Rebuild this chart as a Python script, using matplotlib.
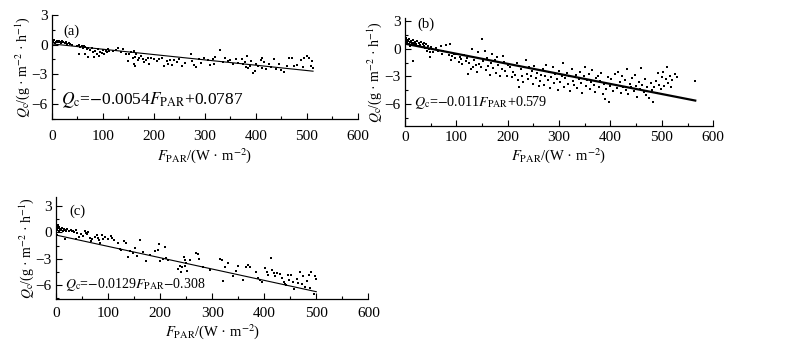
import matplotlib
matplotlib.use("Agg")
import matplotlib.pyplot as plt
from matplotlib.ticker import MultipleLocator

plt.rcParams['font.family'] = ['Liberation Serif', 'DejaVu Serif']
plt.rcParams['mathtext.fontset'] = 'stix'

# ---------------- data ----------------
a_x = [0, 0, 0, 2, 4, 6, 8, 10, 12, 14, 16, 18, 20, 22, 25, 28, 30, 33, 36, 40,
       50, 52, 55, 58, 60, 62, 65, 68, 70, 52,
       75, 78, 80, 82, 85, 88, 90, 92, 95, 98, 100, 102, 105, 108, 110, 112, 70, 65,
       120, 125, 130, 135, 140, 145, 150, 152, 155, 158, 160, 162, 165, 168, 170, 160, 163,
       175, 178, 180, 185, 190, 195, 200, 205, 188,
       210, 215, 220, 225, 228, 232, 236, 240, 245, 250, 255, 260,
       272, 275, 278, 282, 288, 292, 298, 305, 310, 315, 320, 318,
       330, 335, 340, 345, 350, 355, 360, 365, 372, 375, 378, 380, 382, 385, 388, 390, 395, 398,
       400, 405, 410, 412, 415, 420, 425, 430, 435, 440, 445, 450, 455, 460, 465, 470, 475, 480,
       488, 492, 495, 500, 505, 508, 510, 512, 412]
a_y = [1.0, 0.7, 0.4, 0.3, 0.5, 0.2, 0.3, 0.35, 0.25, 0.4, 0.3, 0.2, 0.35, 0.3, 0.2, 0.25, 0.1, 0.15, 0.05, 0.0,
       -0.1, 0.0, -0.2, -0.1, -0.3, -0.15, -0.2, -0.4, -0.3, -0.9,
       -0.5, -0.3, -0.7, -1.2, -0.6, -0.9, -0.4, -1.1, -0.7, -0.8, -0.5, -0.9, -0.6, -0.7, -0.4, -0.6, -1.2, -0.9,
       -0.6, -0.5, -0.3, -0.7, -0.4, -0.9, -1.7, -0.9, -0.7, -1.4, -0.6, -1.2, -0.9, -1.6, -1.3, -2.0, -2.2,
       -1.1, -1.5, -1.8, -1.6, -2.0, -1.4, -1.5, -1.7, -1.3,
       -1.5, -1.4, -2.2, -1.7, -2.0, -1.6, -2.1, -1.6, -1.8, -1.5, -2.2, -1.9,
       -0.9, -1.7, -2.1, -2.3, -1.5, -1.9, -1.4, -1.6, -2.1, -1.5, -1.2, -2.0,
       -0.5, -1.8, -1.3, -1.7, -1.6, -2.0, -1.5, -1.9, -1.5, -2.0, -1.8, -2.3, -1.1, -2.4, -2.2, -1.7, -2.9, -2.7,
       -2.0, -2.2, -1.6, -2.4, -1.8, -2.5, -2.0, -2.3, -1.5, -2.5, -2.0, -2.6, -2.8, -2.2, -1.4, -1.3, -2.2, -2.1,
       -1.6, -2.3, -1.4, -1.1, -1.3, -2.2, -1.7, -2.4, -1.4]

b_x = [0, 0, 0, 1, 0, 1, 2, 3, 4, 5, 6, 7, 8, 9, 10, 12, 14, 15, 17, 18, 20, 22, 24, 25, 27, 28, 30,
       32, 33, 35, 37, 38, 40, 42, 43, 45, 46, 48, 50, 15, 48,
       55, 60, 65, 70, 72, 75, 80, 85, 88, 90, 92, 95, 98, 100, 105, 108, 110, 112, 115, 118, 120,
       122, 125, 128, 130, 132, 135, 138, 140, 142, 145, 148, 150, 152, 155, 157, 160, 162, 165, 168,
       170, 172, 175, 178, 180, 182, 185, 188, 190, 192, 195, 198, 200,
       205, 208, 210, 215, 218, 220, 222, 225, 228, 230, 235, 238, 240, 242, 245, 248, 250, 252, 255,
       258, 260, 262, 265, 268, 270, 272, 275, 278, 280, 282, 285, 288, 290, 292, 295, 298, 300,
       302, 305, 308, 310, 312, 315, 318, 320, 322, 325, 328, 330, 332, 335, 338, 340, 342, 345, 348,
       350, 352, 355, 358, 360, 362, 365, 368, 370, 372, 375, 378, 380, 382, 385, 388, 390, 392, 395,
       398, 400,
       402, 405, 408, 410, 412, 415, 418, 420, 422, 425, 428, 430, 432, 435, 438, 440, 442, 445, 448,
       450, 452, 455, 458, 460, 462, 465, 468, 470, 472, 475, 478, 480, 482, 485, 488, 490, 492, 495,
       498, 500, 502, 505, 508, 510, 512, 515, 518, 520, 525, 530, 565]
b_y = [2.8, 2.3, 1.8, 1.5, -0.5, -1.5, 1.2, 0.8, 1.0, 0.6, 0.9, 1.1, 0.5, 0.8, 0.3, 0.9, 0.6, 1.0, 0.4, 0.7,
       0.8, 0.5, 0.9, 0.3, 0.6, 0.7, 0.4, 0.8, 0.2, 0.5, 0.3, 0.6, 0.1, 0.5, -0.2, 0.3, 0.0, -0.3, 0.2, -1.3, -0.9,
       -0.3, 0.1, -0.2, 0.3, -0.5, -0.2, 0.4, -0.7, 0.5, -1.2, -0.8, -0.5, -1.0, -0.6, -1.4, -0.9, -1.1, -1.6,
       -0.7, -1.3, -1.0,
       -2.7, -1.5, -2.2, 0.0, -2.0, -1.2, -1.8, -2.5, -0.3, -1.6, -2.0, 1.1, -1.3, -0.2, -2.3, -1.0, -1.9, -2.8,
       -1.5, -0.5, -2.1, -1.2, -2.6, -0.9, -1.7, -3.0, -2.2, -0.8, -1.4, -2.4, -2.9, -1.8,
       -2.0, -3.1, -2.5, -2.8, -1.5, -3.4, -4.2, -2.2, -2.9, -3.6, -1.2, -2.7, -3.3, -2.0, -3.0, -2.4, -3.8,
       -1.9, -3.2, -2.6, -4.0, -3.5, -2.8, -2.2, -3.9, -3.0, -1.8, -3.4, -2.5, -4.3, -3.1, -2.0, -3.7, -2.7,
       -3.3, -4.5, -2.4,
       -3.6, -2.9, -1.5, -4.1, -3.2, -2.6, -3.8, -3.0, -4.6, -2.2, -3.5, -3.9, -2.8, -4.3, -3.3, -2.5, -3.7,
       -4.8, -3.0, -2.0, -4.0, -3.4, -2.7, -4.4, -3.6, -2.3, -3.9, -4.7, -3.2, -2.9, -4.2, -3.5, -2.6, -4.9,
       -3.8, -5.5, -4.4, -3.1, -5.8, -4.0,
       -3.3, -4.6, -2.7, -3.9, -4.3, -2.5, -3.6, -4.8, -3.0, -4.1, -3.4, -4.5, -2.2, -4.9, -3.8, -4.2, -3.2,
       -4.6, -2.8, -4.0, -5.2, -3.6, -4.4, -2.1, -3.9, -4.7, -3.3, -5.0, -4.1, -5.4, -3.7, -4.5, -5.8, -4.2,
       -3.5, -4.8, -2.6, -3.9, -4.4, -3.1, -2.5, -4.0, -3.3, -2.0, -3.7, -2.9, -4.2, -3.4, -2.7, -3.1, -3.5]

c_x = [0, 0, 1, 2, 3, 4, 5, 6, 8, 10, 12, 14, 16, 18, 20, 22, 25, 28, 30, 32, 35, 38, 40, 17, 38, 2,
       45, 48, 52, 55, 58, 60, 62, 65, 68, 70, 75, 78, 80, 82, 85, 88, 90, 95, 100, 105, 108, 112, 120,
       122, 125,
       130, 135, 138, 142, 148, 152, 155, 162, 168, 172, 180, 190, 195, 198, 200, 205, 210, 212, 215,
       235, 238, 240, 242, 245, 248, 250, 252, 248,
       258, 268, 272, 275, 282, 295, 315, 318, 320, 325, 330, 340, 345, 350, 360, 365, 368, 372, 385,
       388, 392, 395,
       402, 405, 408, 412, 415, 418, 420, 425, 430, 435, 438, 440, 442, 445, 448, 452, 455, 458, 462,
       465, 468, 472, 475, 478, 482, 485, 488, 490, 495, 500, 498]
c_y = [1.5, 1.0, 0.6, 0.3, 0.8, 0.5, 0.2, 0.6, 0.4, 0.3, 0.5, 0.2, 0.4, 0.3, 0.1, 0.4, 0.2, 0.3, 0.1,
       0.2, 0.0, 0.3, -0.1, -0.8, -0.8, -0.3,
       -0.5, -0.2, -0.4, 0.1, -0.1, -0.2, 0.0, -0.6, -1.0, -0.8, -0.5, -0.3, -0.6, -0.9, -1.2, -0.3, -0.7,
       -0.5, -0.8, -0.4, -0.6, -0.9, -1.2, -1.9, -2.0,
       -1.0, -1.2, -2.8, -2.1, -2.4, -1.8, -2.7, -0.9, -2.2, -3.3, -2.6, -2.1, -2.0, -1.3, -3.3, -3.0, -1.7,
       -2.9, -3.2, -4.2, -3.8, -4.5, -4.0, -2.8, -3.1, -3.5, -4.4, -3.8,
       -3.2, -2.3, -2.5, -3.0, -3.9, -4.3, -3.0, -3.2, -5.5, -3.9, -3.5, -5.0, -4.4, -3.8, -5.4, -4.0, -3.7,
       -3.9, -4.5, -5.2, -5.4, -5.6,
       -4.1, -4.5, -4.8, -2.9, -4.3, -4.6, -5.0, -4.6, -4.7, -5.2, -5.7, -5.9, -6.0, -4.9, -5.4, -4.8, -5.6,
       -6.5, -5.3, -5.8, -4.5, -5.9, -5.0, -6.2, -5.5, -4.9, -6.3, -4.5, -7.0, -5.3, -5.0]

# regression lines: slope, intercept, x range
a_fit = (-0.0054, 0.0787, 0, 512)
b_fit = (-0.011, 0.579, 0, 565)
c_fit = (-0.0129, -0.308, 0, 500)

a_eq = r'$Q_{\mathrm{c}}$=$-$0.0054$F_{\mathrm{PAR}}$+0.0787'
b_eq = r'$Q_{\mathrm{c}}$=$-$0.011$F_{\mathrm{PAR}}$+0.579'
c_eq = r'$Q_{\mathrm{c}}$=$-$0.0129$F_{\mathrm{PAR}}$$-$0.308'

xlabel = r'$F_{\mathrm{PAR}}$/(W · m$^{-2}$)'
ylabel = r'$Q_{\mathrm{c}}$/(g · m$^{-2}$ · h$^{-1}$)'

x_ticks = [0, 100, 200, 300, 400, 500, 600]
y_ticks = [3, 0, -3, -6]

fig = plt.figure(figsize=(8.05, 3.43), dpi=100)

panels = [
    # rect, x, y, fit, eq, tag, ylim, lw, tagpos, eq_y, xpad, eqsize
    ([0.0646, 0.654, 0.380, 0.302], a_x, a_y, a_fit, a_eq, '(a)', (-7.5, 3.0), 0.8, (22, 1.4), -5.6, 8, 12.5),
    ([0.503, 0.633, 0.383, 0.315], b_x, b_y, b_fit, b_eq, '(b)', (-8.4, 3.4), 1.6, (25, 2.7), -5.85, 3.5, 10.2),
    ([0.0696, 0.128, 0.388, 0.297], c_x, c_y, c_fit, c_eq, '(c)', (-7.6, 4.0), 0.8, (25, 2.4), -5.9, 5.5, 10),
]

for rect, xs, ys, fit, eq, tag, ylim, lw, tagpos, eq_y, xpad, eqsize in panels:
    ax = fig.add_axes(rect)
    ax.scatter(xs, ys, s=3, marker='s', color='black', linewidths=0)
    m, c0, x0, x1 = fit
    ax.plot([x0, x1], [m * x0 + c0, m * x1 + c0], color='black', lw=lw)
    ax.set_xlim(0, 600)
    ax.set_ylim(*ylim)
    ax.set_xticks(x_ticks)
    ax.set_yticks(y_ticks)
    ax.set_yticklabels(['3', '0', '\u22123', '\u22126'])
    ax.xaxis.set_minor_locator(MultipleLocator(50))
    ax.yaxis.set_minor_locator(MultipleLocator(1.5))
    ax.tick_params(which='both', direction='in', width=0.8)
    ax.tick_params(axis='x', labelsize=11, pad=xpad)
    ax.tick_params(axis='y', labelsize=11, pad=3)
    ax.tick_params(which='major', length=4)
    ax.tick_params(which='minor', length=2)
    for s in ['top', 'right']:
        ax.spines[s].set_visible(False)
    for s in ['left', 'bottom']:
        ax.spines[s].set_linewidth(0.9)
    ax.set_xlabel(xlabel, fontsize=10.5, labelpad=2)
    ax.set_ylabel(ylabel, fontsize=10, labelpad=0)
    ax.text(18, eq_y, eq, fontsize=eqsize, va='center', ha='left')
    ax.text(tagpos[0], tagpos[1], tag, fontsize=10.5, va='center', ha='left')

fig.savefig('out.png', dpi=100)
